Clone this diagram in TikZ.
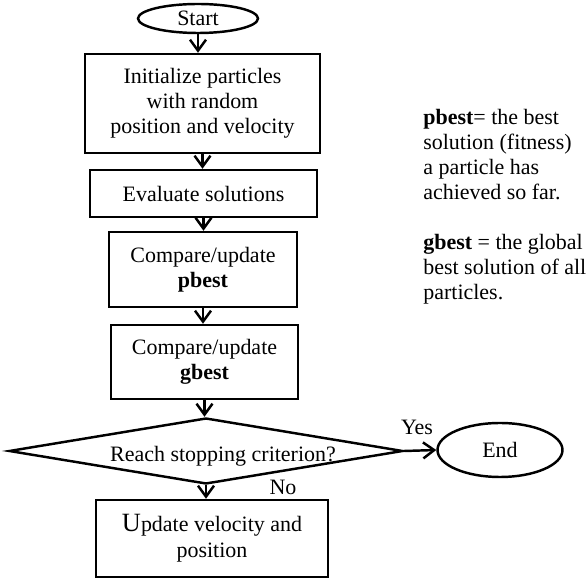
\documentclass[tikz,border=0pt]{standalone}
\usepackage{fontspec}
\setmainfont{Liberation Serif}
\usetikzlibrary{shapes.geometric,arrows.meta}

\tikzset{
	box/.style={draw,line width=1.4pt,rectangle,align=center,inner sep=0pt},
	terminal/.style={draw,line width=1.4pt,ellipse,inner sep=0pt},
	decision/.style={draw,line width=1.4pt,diamond,inner sep=0pt},
	flow/.style={line width=1.4pt,-{Straight Barb[length=2.2mm,width=3.2mm]}},
	note/.style={anchor=north west,align=left,inner sep=0pt}
}

\begin{document}
\begin{tikzpicture}[font=\fontsize{12.5}{14.2}\selectfont]
		\useasboundingbox (0,0) rectangle (11.74,11.6);
		
		%steps
		\node[terminal,minimum width=2.4cm,minimum height=0.58cm] (start) at (3.96,11.23) {Start};
		\node[box,minimum width=4.7cm,minimum height=1.98cm] (init) at (4.05,9.53) {Initialize particles\\with random\\position and velocity};
		\node[box,minimum width=4.54cm,minimum height=0.94cm] (eval) at (4.07,7.73) {Evaluate solutions};
		\node[box,minimum width=3.76cm,minimum height=1.5cm] (pbest) at (4.06,6.21) {Compare/update\\\textbf{pbest}};
		\node[box,minimum width=3.74cm,minimum height=1.48cm] (gbest) at (4.09,4.36) {Compare/update\\\textbf{gbest}};
		\node[decision,minimum width=7.88cm,minimum height=1.32cm,
			label={[xshift=0.34cm,yshift=-0.1cm]center:Reach stopping criterion?}] (stop) at (4.12,2.58) {};
		\node[terminal,minimum width=2.5cm,minimum height=1.08cm] (end) at (10.0,2.6) {End};
		\node[box,minimum width=4.64cm,minimum height=1.54cm,font=\fontsize{12.5}{15}\selectfont] (update) at (4.24,0.83) {{\fontsize{15}{15}\selectfont U}pdate velocity and\\position};
		
		%arrows
		\draw[flow] (start.south) -- (start.south |- init.north);
		\draw[flow] (init.south) -- (init.south |- eval.north);
		\draw[flow] (eval.south) -- (eval.south |- pbest.north);
		\draw[flow] (pbest.south) -- (pbest.south |- gbest.north);
		\draw[flow] (gbest.south) -- (gbest.south |- stop.north);
		\draw[flow] (stop.south) -- (stop.south |- update.north);
		\draw[flow] (stop.east) -- (end.west);
		
		%branch labels
		\node (yes) at (8.34,3.06) {Yes};
		\node (no) at (5.66,1.86) {No};
		
		%notes
		\node[note] (pnote) at (8.46,9.42) {\textbf{pbest}= the best\\solution (fitness)\\a particle has\\achieved so far.};
		\node[note] (gnote) at (8.46,6.92) {\textbf{gbest} = the global\\best solution of all\\particles.};
\end{tikzpicture}
\end{document}
